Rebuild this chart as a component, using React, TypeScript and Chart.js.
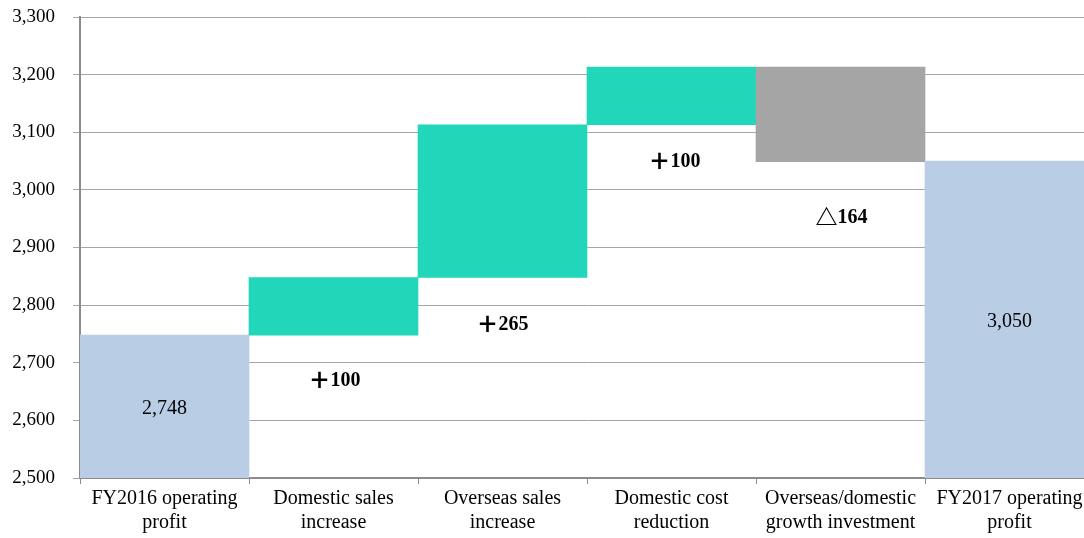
import React, { useEffect, useRef } from "react";
import { Chart, registerables } from "chart.js";

Chart.register(...registerables);

const categories: string[][] = [
  ["FY2016 operating", "profit"],
  ["Domestic sales", "increase"],
  ["Overseas sales", "increase"],
  ["Domestic cost", "reduction"],
  ["Overseas/domestic", "growth investment"],
  ["FY2017 operating", "profit"],
];
const startValue = 2748;
const changes = [100, 265, 100, -164];
const endValue = 3050;
const changeSigns = ["＋", "＋", "＋", "△"];
const changeNumbers = ["100", "265", "100", "164"];
const totalLabels = ["2,748", "3,050"];
const yTicksMin = 2500;
const yTicksMax = 3300;
const yStep = 100;

const BLUE = "#B9CDE5";
const TEAL = "#22D6B9";
const GRAY = "#A5A5A5";

function buildFloating(): [number, number][] {
  const out: [number, number][] = [[yTicksMin, startValue]];
  let cur = startValue;
  for (const c of changes) {
    const next = cur + c;
    out.push([Math.min(cur, next), Math.max(cur, next)]);
    cur = next;
  }
  out.push([yTicksMin, endValue]);
  return out;
}

const labelOffsets = [45, 46, 36, 55];
const labelDx = [1, 0, 3, 1];

const labelPlugin = {
  id: "wfLabels",
  afterDatasetsDraw(chart: any) {
    const ctx = chart.ctx;
    const meta = chart.getDatasetMeta(0);
    const yScale = chart.scales.y;
    const data = chart.data.datasets[0].data as [number, number][];
    ctx.save();
    ctx.textAlign = "center";
    ctx.textBaseline = "middle";
    ctx.fillStyle = "#000";
    ctx.font = "20px 'Liberation Serif', serif";
    [0, data.length - 1].forEach((idx, k) => {
      const bar = meta.data[idx];
      const top = yScale.getPixelForValue(data[idx][1]);
      const bottom = yScale.getPixelForValue(data[idx][0]);
      ctx.fillText(totalLabels[k], bar.x, (top + bottom) / 2 + 2);
    });
    const signFont = "900 22px 'Noto Sans CJK JP', 'DejaVu Sans', sans-serif";
    const numFont = "bold 20px 'Liberation Serif', serif";
    ctx.textAlign = "left";
    changeSigns.forEach((sign, i) => {
      const idx = i + 1;
      const bar = meta.data[idx];
      const bottom = yScale.getPixelForValue(data[idx][0]);
      const y = bottom + labelOffsets[i];
      ctx.font = signFont;
      const sw = ctx.measureText(sign).width;
      ctx.font = numFont;
      const nw = ctx.measureText(changeNumbers[i]).width;
      const x0 = bar.x + labelDx[i] - (sw + nw) / 2;
      ctx.font = signFont;
      ctx.fillText(sign, x0, y);
      ctx.font = numFont;
      ctx.fillText(changeNumbers[i], x0 + sw, y + 1);
    });
    ctx.restore();
  },
};

export default function App() {
  const ref = useRef<HTMLCanvasElement | null>(null);
  useEffect(() => {
    if (!ref.current) return;
    const floating = buildFloating();
    const colors = [BLUE, ...changes.map((c) => (c >= 0 ? TEAL : GRAY)), BLUE];
    const chart = new Chart(ref.current, {
      type: "bar",
      data: {
        labels: categories,
        datasets: [
          {
            data: floating as any,
            backgroundColor: colors,
            borderWidth: 0,
            barPercentage: 1,
            categoryPercentage: 1,
          },
        ],
      },
      options: {
        animation: false,
        responsive: false,
        maintainAspectRatio: false,
        layout: { padding: { top: 17, right: 1, bottom: 0, left: 0 } },
        plugins: { legend: { display: false }, tooltip: { enabled: false } },
        scales: {
          x: {
            grid: {
              drawOnChartArea: false,
              drawTicks: true,
              tickLength: 6,
              color: "#8c8c8c",
              offset: true,
            },
            border: { color: "#8c8c8c", width: 2 },
            ticks: {
              color: "#000",
              font: { family: "'Liberation Serif', serif", size: 20, lineHeight: 1.2 },
              padding: 3,
              maxRotation: 0,
              autoSkip: false,
            },
            afterFit: (s: any) => {
              s.height = 60;
              s.paddingLeft = 0;
              s.paddingRight = 0;
            },
          },
          y: {
            min: yTicksMin,
            max: yTicksMax,
            grid: { color: "#a6a6a6", lineWidth: 1, tickLength: 7, drawTicks: true },
            border: { color: "#8c8c8c", width: 2 },
            ticks: {
              stepSize: yStep,
              color: "#000",
              padding: 18,
              font: { family: "'Liberation Serif', serif", size: 19 },
              callback: (v: any) => Number(v).toLocaleString("en-US"),
            },
            afterFit: (s: any) => {
              s.width = 80;
              s.paddingTop = 0;
              s.paddingBottom = 0;
            },
          },
        },
      },
      plugins: [labelPlugin],
    });
    return () => chart.destroy();
  }, []);
  return (
    <div style={{ position: "fixed", left: 0, top: 0, width: 1084, height: 538, background: "#fff", overflow: "hidden" }}>
      <canvas ref={ref} width={1095} height={538} style={{ width: 1095, height: 538, display: "block" }} />
    </div>
  );
}
